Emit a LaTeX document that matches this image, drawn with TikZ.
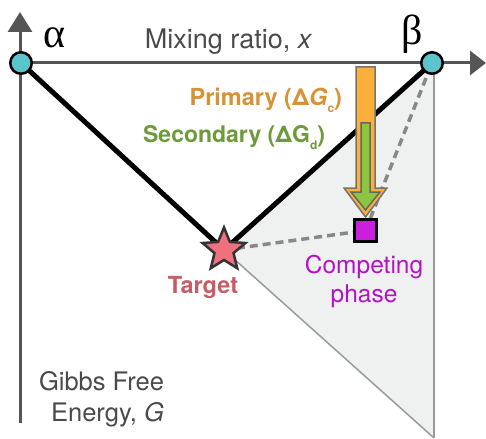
\documentclass[tikz,border=0pt]{standalone}
\usepackage{fontspec}
\setmainfont{TeX Gyre Heros}
\newfontfamily\greekfont{Liberation Serif}
\usetikzlibrary{arrows.meta,shapes.geometric,backgrounds}
\definecolor{axisgray}{HTML}{555555}
\definecolor{txtgray}{HTML}{4A4A4A}
\definecolor{teal}{HTML}{5BC5CC}
\definecolor{starfill}{HTML}{F0717E}
\definecolor{sqfill}{HTML}{CC1EDF}
\definecolor{comptxt}{HTML}{B512C8}
\definecolor{targtxt}{HTML}{C55C66}
\definecolor{primtxt}{HTML}{D89236}
\definecolor{sectxt}{HTML}{6D9B39}
\definecolor{orfill}{HTML}{FBB03B}
\definecolor{grfill}{HTML}{8CC63F}
\definecolor{regfill}{HTML}{EFF1F1}
\definecolor{regline}{HTML}{9A9A9A}
\definecolor{dashgray}{HTML}{888888}
\newcommand{\lowsub}[1]{\raisebox{-7pt}{\fontsize{12}{12}\selectfont #1}}
\tikzset{
  dot/.style={circle,draw=black,fill=teal,line width=2.5pt,minimum size=21.5pt,inner sep=0pt},
  starnode/.style={star,star points=5,star point ratio=2.25,draw=black!80,fill=starfill,line width=2.5pt,minimum size=45pt,inner sep=0pt},
  sqnode/.style={rectangle,draw=black,fill=sqfill,line width=2.5pt,minimum size=22pt,inner sep=0pt},
  axisline/.style={axisgray,line width=3pt},
  tieline/.style={black,line width=5pt},
  dashline/.style={dashgray,line width=3.5pt,dash pattern=on 8pt off 5pt},
  regedge/.style={regline,line width=1.5pt},
  lbl/.style={inner sep=0pt,outer sep=0pt},
  fatarrow/.style={line width=1.5pt,line join=miter}
}
\begin{document}
\begin{tikzpicture}[x=1pt,y=-1pt]
\useasboundingbox (0,0) rectangle (486,438);
% nodes
\node[dot] (a) at (21,63) {};
\node[dot] (b) at (432,63) {};
\node[starnode] (t) at (224,250) {};
\node[sqnode] (c) at (365.5,230.5) {};
\coordinate (ybot) at (20,423);
\coordinate (ytip) at (20,12);
\coordinate (xtip) at (486,63);
\coordinate (rtop) at (434,66);
\coordinate (rbot) at (434,438);
\begin{scope}[on background layer]
  \fill[regfill] (t.center) -- (b.center) -- (rtop) -- (rbot) -- cycle;
  \draw[regedge] (t.center) -- (rbot);
  \draw[regedge] (rtop) -- (rbot);
  \draw[axisline,-{Triangle[length=20pt,width=24pt]}] (ybot) -- (ytip);
  \draw[axisline,-{Triangle[length=16pt,width=24pt]}] (a.center) -- (xtip);
  \draw[tieline] (a.center) -- (t.center);
  \draw[tieline] (t.center) -- (b.center);
  \draw[dashline] (t.center) -- (c.center);
  \draw[dashline] (c.center) -- (b.center);
\end{scope}
% fat arrows
\draw[fatarrow,draw=black!55,fill=orfill] (356,67) -- (375,67) -- (375,188) -- (387,188) -- (365.5,217) -- (344,188) -- (356,188) -- cycle;
\draw[fatarrow,draw=black!60,fill=grfill] (361,123) -- (370,123) -- (370,192) -- (380,192) -- (365.5,210) -- (351,192) -- (361,192) -- cycle;
% labels
\node[lbl,anchor=base west,font={\greekfont\fontsize{42}{42}\selectfont}] (alab) at (43,48) {α};
\node[lbl,anchor=base west,font={\greekfont\fontsize{42}{42}\selectfont}] (blab) at (401,45) {β};
\node[lbl,anchor=base,text=txtgray,font={\fontsize{27}{30}\selectfont}] (xlab) at (228.5,49) {Mixing ratio, \textit{x}};
\node[lbl,anchor=base east,text=primtxt,font={\bfseries\fontsize{23.5}{26}\selectfont}] (plab) at (342,106) {Primary (Δ\textit{G}\lowsub{c})};
\node[lbl,anchor=base east,text=sectxt,font={\bfseries\fontsize{23}{26}\selectfont}] (slab) at (325,143) {Secondary (ΔG\lowsub{d})};
\node[lbl,anchor=base,text=targtxt,font={\bfseries\fontsize{23.5}{26}\selectfont}] (tlab) at (203,293) {Target};
\node[lbl,anchor=north,align=center,text=comptxt,font={\fontsize{24.5}{29}\selectfont}] (clab) at (364,255) {Competing\\phase};
\node[lbl,anchor=north east,align=right,text=txtgray,font={\fontsize{25.5}{31}\selectfont}] (glab) at (164,371.5) {Gibbs Free\\Energy, \textit{G}};
\end{tikzpicture}
\end{document}
